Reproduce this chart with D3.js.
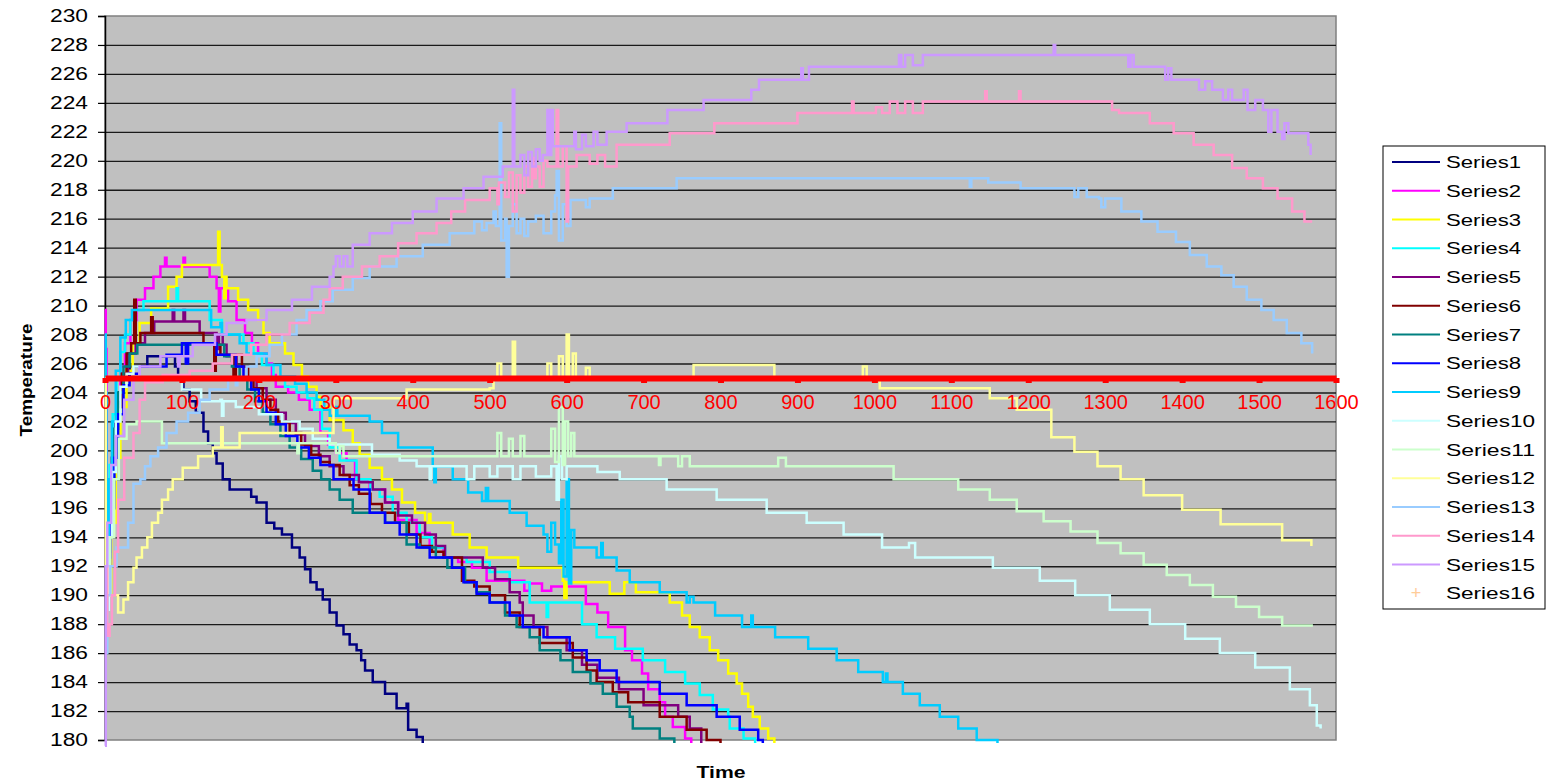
<!DOCTYPE html>
<html>
<head>
<meta charset="utf-8">
<script src="https://cdn.jsdelivr.net/npm/d3@7"></script>
<style>
  body { margin: 0; background: #fff; }
  text { font-family: Arial, "Liberation Sans", sans-serif; }
</style>
</head>
<body>
<div id="chart"></div>
<script>
// readings: [time, temperature]
var s1 = [[1,192.6],[5,196.5],[9,199.5],[13,202],[18,204],[24,205.2],[32,205.8],[55,206.5],[88,206.5],[91,205.8],[95,205],[102,204.2],[110,203.4],[118,202.6],[128,201.3],[134,200.5],[140,199.8],[145,199.1],[153,198],[162,197.3],[190,196.8],[197,196.4],[210,195],[220,194.6],[230,194.2],[243,193.3],[253,192.6],[260,191.8],[267,190.9],[275,190.4],[283,189.7],[292,188.8],[301,187.9],[310,187.3],[318,186.6],[327,186.2],[333,185.5],[338,184.8],[348,184],[364,183.2],[379,182.2],[392,182.5],[394,180.7],[405,180.2],[413,179.8]];
var s2 = [[0,209.7],[1,207],[2,193.5],[6,197],[10,200.5],[15,203.5],[20,205.8],[26,207.4],[33,209],[41,210.4],[52,211.2],[63,212],[72,212.7],[78,213.3],[80,212.7],[100,212.7],[102,213.3],[104,212.7],[123,212.7],[136,212],[145,211.2],[148,209.6],[150,211.2],[160,210.3],[171,209],[182,208.1],[191,207.4],[199,206.7],[210,206],[217,205.2],[222,204.4],[238,204],[252,203.5],[266,202.8],[280,201.2],[290,200.4],[300,199.8],[314,199.3],[325,198],[344,197.3],[364,196.4],[381,195.2],[405,194.3],[422,193.3],[440,192.6],[459,192.3],[477,191.9],[496,191],[545,190.3],[552,190.8],[568,190.3],[580,190.6],[625,189.4],[640,188.8],[654,187.8],[676,186.2],[685,185.5],[698,184.6],[706,183.5],[721,182.6],[728,181.6],[738,180.9],[754,180.1],[762,179.8]];
var s3 = [[3,190],[8,195],[14,199.5],[20,203],[28,205.5],[36,207.4],[45,208.8],[60,209.8],[82,211.3],[93,212],[100,212.8],[145,212.8],[147,215.1],[149,212.8],[152,212],[155,210.5],[157,212],[158,211.2],[173,210.4],[186,209.7],[199,209],[206,208.1],[214,207.4],[234,206.7],[245,205.9],[256,205.1],[264,204.4],[275,203.7],[280,203],[292,202.1],[310,201.4],[322,200.5],[331,199.7],[344,198.8],[360,198],[373,197.3],[386,196.4],[403,195.7],[416,195],[421,195.6],[423,195],[452,194.2],[474,193.3],[496,192.6],[537,191.9],[595,191],[597,189.8],[600,190.9],[656,190.1],[675,190.9],[690,190.2],[734,189.5],[750,188.6],[760,187.8],[773,187.1],[786,186.2],[797,185.5],[810,184.6],[821,183.9],[828,183.2],[836,182.3],[842,181.6],[851,180.8],[862,180.1],[870,179.8]];
var s4 = [[2,195],[6,199],[10,202.5],[15,205],[20,206.8],[26,208],[33,209],[40,209.7],[50,210.3],[92,210.3],[93,211.2],[95,210.3],[134,210.3],[136,209],[152,208],[180,207.4],[193,206.7],[204,205.9],[219,205],[234,204.4],[249,204],[263,203.6],[272,202.8],[282,201.5],[292,200.2],[305,199.3],[327,198],[345,197.3],[357,196.8],[374,195.7],[392,195],[409,194],[425,193.3],[442,192.6],[470,192.3],[500,191.6],[526,190.9],[552,189.5],[572,189.5],[574,188.5],[576,189.5],[620,188],[639,187.1],[663,186.3],[699,185.5],[728,184.7],[754,183.9],[773,183.1],[790,182.1],[810,181.6],[812,180.8],[830,180.1],[845,179.8]];
var s5 = [[3,193],[7,197],[11,200],[16,203],[22,205.3],[30,206.7],[40,207.4],[52,208.1],[64,208.9],[86,208.9],[88,209.7],[90,208.9],[100,208.9],[102,209.7],[104,208.9],[123,208.1],[145,207],[148,208],[153,207.3],[158,206.5],[171,205.8],[185,205],[197,204.3],[210,203.5],[222,202.6],[235,201.9],[248,201.1],[260,200.3],[278,199.6],[292,198.9],[310,198.3],[330,197.8],[348,197.3],[364,196.4],[381,195.5],[399,195],[416,194.2],[430,193.4],[442,192.6],[491,191.9],[507,191.1],[526,190.2],[539,189.5],[543,188.6],[557,187.8],[575,187.1],[600,186.2],[620,185.2],[640,184.3],[668,183.5],[700,182.4],[745,181.6],[760,180.8],[775,179.8]];
var s6 = [[3,192],[7,196.5],[11,200],[16,203],[22,205.3],[28,206.7],[34,207.4],[38,210.4],[40,207.4],[46,208.1],[60,209.2],[62,208.1],[125,208.1],[128,207.3],[142,205.5],[144,207.3],[150,206.6],[167,205.2],[170,206.6],[178,205.8],[186,205],[193,204.3],[205,203.5],[215,202.8],[225,202],[240,201.2],[255,200.4],[268,199.7],[280,199.2],[292,199],[305,198.3],[318,197.6],[330,197],[345,196.3],[360,195.7],[377,195],[395,194.2],[410,193.4],[425,193],[440,192.6],[464,191],[480,190.6],[500,190],[520,188.8],[539,187.8],[565,186.7],[608,185.7],[626,184.8],[639,184],[660,183.3],[680,182.6],[721,181.6],[756,180.7],[782,180],[800,179.8]];
var s7 = [[3,194],[7,198],[12,201.5],[17,204],[24,205.8],[32,206.7],[42,207.3],[150,207.3],[155,206.5],[165,205.8],[175,205],[185,204.2],[195,203.4],[205,202.6],[215,201.8],[228,201],[240,200.2],[255,199.4],[270,198.6],[281,198],[292,197.3],[305,196.6],[322,195.7],[364,195],[392,193.5],[409,193.3],[430,192.6],[445,191.9],[468,190.9],[483,190.2],[500,189.5],[520,188.6],[535,187.8],[552,187.1],[565,186.2],[592,185.5],[608,184.7],[631,183.9],[647,183.2],[665,182.3],[682,181.6],[686,180.8],[721,180.1],[740,179.8]];
var s8 = [[3,192.6],[7,196],[12,199.5],[17,202.5],[24,204.5],[32,205.3],[45,205.8],[80,206.6],[100,207.4],[105,206],[108,207.4],[140,207.4],[145,206.6],[170,205.8],[180,205],[190,204.2],[200,203.4],[210,202.6],[222,201.8],[235,201],[250,200.2],[265,199.5],[280,199],[297,198],[323,197.3],[344,195.7],[364,195],[383,194.2],[405,193.3],[422,192.6],[451,191.9],[466,190.9],[483,190.1],[500,189.5],[526,188.6],[543,187.8],[570,187.1],[604,186.2],[626,185.5],[643,184.8],[665,184],[721,183.2],[756,182.4],[795,181.6],[825,180.7],[849,180],[855,179.8]];
var s9 = [[0,208],[1,204],[2,194],[5,198],[9,202],[14,205.5],[20,207.8],[27,209],[35,209.7],[136,209.7],[138,208.5],[150,208.8],[152,208],[175,207.4],[184,206.7],[210,205.9],[228,205.1],[247,204.6],[262,204],[275,203.5],[285,202.8],[292,202.4],[300,203],[302,202.4],[344,202],[360,201.2],[381,200.2],[426,198.9],[428,197.8],[430,198.9],[452,198],[472,197.1],[490,196.5],[495,197.4],[498,196.5],[526,195.7],[548,194.8],[570,194.2],[575,193],[580,195],[585,193.5],[590,192.2],[593,196.6],[596,191.3],[600,198],[603,190.8],[606,194.5],[610,193.3],[639,192.6],[645,193.6],[647,192.6],[665,191.7],[682,190.9],[721,190.2],[756,189.5],[760,189.9],[765,189.5],[793,188.6],[828,187.8],[840,188.6],[842,187.8],[871,187.1],[914,186.3],[951,185.5],[979,184.7],[1011,184],[1015,184.6],[1017,184],[1037,183.2],[1059,182.4],[1085,181.6],[1109,180.8],[1133,180],[1160,179.8]];
var s10 = [[2,189],[5,194],[9,198.5],[14,202],[20,204.4],[28,205.3],[37,205.8],[45,205],[100,204.2],[125,203.4],[150,203.5],[152,202.4],[154,203.4],[170,203],[200,202.5],[230,202],[253,201.5],[270,200.8],[292,200.4],[347,199.7],[383,199.3],[405,198.9],[422,198],[424,198.9],[470,198],[480,198.9],[500,198.2],[510,198.9],[530,198],[540,198.9],[560,198.2],[580,198.9],[587,196.6],[590,199.6],[594,198],[600,198.9],[640,198.5],[669,198],[730,197.3],[795,196.6],[860,195.7],[912,195],[960,194.2],[1010,193.3],[1045,193.6],[1053,192.6],[1154,191.9],[1215,191],[1261,190],[1306,189],[1358,188],[1404,187],[1449,186],[1495,185],[1540,183.5],[1566,182.4],[1575,181],[1580,180.8]];
var s11 = [[3,190],[7,194],[12,198],[18,200.8],[28,201.8],[41,202],[74,200.5],[249,200.5],[250,199.8],[252,200.5],[300,199.8],[305,200.3],[310,199.6],[510,201.2],[515,199.6],[525,200.8],[530,199.6],[540,201],[545,199.6],[580,201.5],[585,199.2],[590,203],[595,199],[598,202],[602,199.6],[606,201.2],[610,199.6],[720,199],[722,199.6],[745,198.9],[750,199.6],[760,198.9],[875,199.5],[885,198.9],[1025,198],[1109,197.3],[1150,196.6],[1185,195.8],[1220,195.1],[1255,194.4],[1290,193.6],[1320,192.9],[1350,192.1],[1380,191.4],[1410,190.7],[1440,189.9],[1470,189.2],[1500,188.5],[1530,187.9],[1570,187.9]];
var s12 = [[0,205],[1,192],[3,190],[17,188.8],[24,189.7],[30,190.9],[37,191.9],[41,192.6],[48,193.3],[55,194],[61,195],[69,195.7],[74,196.6],[82,197.3],[88,198],[101,198.8],[121,199.6],[140,200.2],[151,201.6],[153,200.2],[175,201.2],[297,203.6],[392,204.2],[500,204.3],[505,205],[510,206],[515,205],[530,207.5],[533,205],[575,206],[580,205],[590,206.5],[595,205],[600,208],[603,205],[608,206.7],[612,205],[625,205.7],[630,205],[765,205.9],[870,205],[985,205.8],[990,205],[1007,204.3],[1150,203.6],[1185,202.8],[1230,200.9],[1260,199.9],[1290,198.9],[1320,198],[1350,196.9],[1400,195.9],[1450,194.9],[1530,193.8],[1568,193.4]];
var s13 = [[1,186],[3,190],[7,192],[15,193.3],[30,195],[37,197.7],[46,198],[52,198.9],[59,199.6],[69,200.2],[80,201.2],[93,202],[108,202.6],[123,203.5],[136,204.2],[160,205],[170,204.5],[172,205],[184,205.8],[197,206.5],[214,207.3],[230,208],[249,209],[262,209.7],[280,210.3],[296,211.1],[322,211.9],[344,212.7],[379,213.4],[413,214.2],[448,215],[480,215.8],[490,215.2],[496,215.7],[505,216.5],[508,215.5],[513,222.6],[515,214.5],[520,216],[522,212],[525,215.5],[530,217],[535,215],[540,216],[545,214.8],[550,215.8],[560,216.2],[570,215],[580,216.5],[585,217.6],[587,219.3],[590,214.5],[595,217],[600,215.5],[605,217.3],[625,216.8],[630,217.4],[660,218.1],[743,218.8],[1122,218.8],[1124,218.2],[1126,218.8],[1148,218.5],[1190,218.1],[1260,217.5],[1265,218.1],[1276,217.5],[1292,217.4],[1295,216.8],[1300,217.4],[1321,216.5],[1347,215.8],[1368,215.1],[1392,214.4],[1410,213.5],[1432,212.7],[1451,212.1],[1467,211.3],[1484,210.4],[1503,209.7],[1519,209],[1536,208.1],[1555,207.4],[1569,206.7]];
var s14 = [[0,192],[3,187.2],[6,188],[9,190],[13,193],[17,196.6],[25,199.5],[37,201.2],[45,203.5],[52,204.7],[75,205.2],[110,205.5],[140,206],[165,206.6],[190,207.3],[210,208],[240,208.8],[266,209.5],[284,210.4],[292,211.2],[309,212],[334,212.7],[357,213.4],[381,214.3],[405,215],[431,215.7],[450,216.5],[468,217.3],[500,218.1],[510,217],[512,218.5],[520,217.5],[525,219.2],[530,216.5],[535,219],[540,217.8],[545,219.6],[550,218.2],[555,220.2],[557,218.8],[560,219.6],[565,218.2],[570,220],[575,219.6],[587,223.5],[589,219.6],[595,221],[600,215.8],[602,219.6],[613,220.4],[630,219.8],[640,220.4],[650,219.6],[665,221.1],[734,221.9],[792,222.6],[900,223.3],[971,224.1],[973,223.3],[1002,223.7],[1010,223.3],[1020,224.1],[1030,223.3],[1040,224.1],[1050,223.3],[1063,224.1],[1144,224.8],[1146,224.1],[1188,224.8],[1190,224.1],[1309,223.5],[1318,223.3],[1358,222.6],[1389,221.9],[1415,221.1],[1441,220.4],[1465,219.5],[1484,218.8],[1505,218.1],[1524,217.4],[1543,216.5],[1559,215.8],[1569,215.8]];
var s15 = [[0,179.6],[1,192],[3,195],[8,199],[14,201],[25,203.5],[37,205],[45,205.8],[72,206.5],[95,205.8],[97,206.5],[114,207.3],[143,208],[158,208.8],[184,209],[210,209.7],[243,210.4],[269,211.3],[292,212],[297,212.7],[300,213.4],[305,212.7],[310,213.4],[315,212.7],[322,214.2],[344,215],[373,215.7],[400,216.5],[431,217.4],[466,218.1],[492,218.9],[517,219.6],[530,224.9],[532,219.6],[540,220.4],[545,219],[550,220.6],[555,219.6],[560,220.8],[565,220],[569,220.4],[575,223.5],[577,220.4],[580,223.5],[582,221],[610,222],[612,220.8],[620,221.8],[625,221],[635,222],[640,221.1],[652,222],[678,222.6],[731,223.5],[778,224.2],[840,224.9],[850,225.6],[905,226.4],[907,225.6],[915,226.5],[1032,227.3],[1035,226.5],[1040,227.3],[1050,226.6],[1063,227.3],[1233,228],[1235,227.3],[1330,226.5],[1333,227.3],[1337,226.5],[1378,225.6],[1382,226.4],[1386,225.6],[1422,224.9],[1430,225.5],[1439,224.9],[1453,224.2],[1460,224.9],[1465,224.2],[1480,224.9],[1485,223.5],[1495,224.2],[1505,223.5],[1512,222],[1516,223.5],[1524,222],[1530,221.5],[1533,222.6],[1538,221.9],[1564,221.1],[1567,220.4]];
var s16 = [];

var seriesNames = ["Series1","Series2","Series3","Series4","Series5","Series6","Series7","Series8",
                   "Series9","Series10","Series11","Series12","Series13","Series14","Series15","Series16"];
var seriesColors = ["#000080","#FF00FF","#FFFF00","#00FFFF","#800080","#800000","#008080","#0000FF",
                    "#00CCFF","#CCFFFF","#CCFFCC","#FFFF99","#99CCFF","#FF99CC","#CC99FF","#FFCC99"];
var seriesData = [s1,s2,s3,s4,s5,s6,s7,s8,s9,s10,s11,s12,s13,s14,s15,s16];

var yTicks = d3.range(180, 231, 2);
var xTicks = d3.range(0, 1601, 100);
var xAxisCross = 205;

var w = 1548, h = 783,
    plot = {left: 105, right: 1336, top: 16, bottom: 740};

var svg = d3.select("#chart").append("svg")
    .attr("width", w)
    .attr("height", h)
    .style("background-color", "white");

var x = d3.scaleLinear().domain([0, 1600]).range([plot.left, plot.right]),
    y = d3.scaleLinear().domain([180, 230]).range([plot.bottom, plot.top]);

// plot area
svg.append("rect")
    .attr("x", plot.left).attr("y", plot.top)
    .attr("width", plot.right - plot.left).attr("height", plot.bottom - plot.top)
    .attr("fill", "#C0C0C0")
    .attr("stroke", "#808080").attr("stroke-width", 1.5);

// gridlines
svg.append("g")
    .attr("transform", "translate(" + plot.left + ",0)")
    .call(d3.axisLeft(y).tickValues(yTicks).tickSize(-(plot.right - plot.left)).tickFormat(""))
    .call(function(g) {
        g.select(".domain").remove();
        g.selectAll(".tick line").attr("stroke", "#1a1a1a").attr("stroke-width", 1.3);
        g.selectAll(".tick").filter(function(d) { return d == 230 || d == 180; }).remove();
    });

// y axis
var yAxis = svg.append("g")
    .attr("transform", "translate(" + plot.left + ",0)")
    .call(d3.axisLeft(y).tickValues(yTicks).tickSize(7).tickPadding(10));
yAxis.select(".domain").attr("stroke", "#000").attr("stroke-width", 1.5);
yAxis.selectAll(".tick line").attr("stroke", "#000").attr("stroke-width", 1.2);
yAxis.selectAll(".tick text")
    .attr("fill", "#000")
    .style("font-size", "17.5px")
    .attr("textLength", 38)
    .attr("lengthAdjust", "spacingAndGlyphs");

// series
var line = d3.line()
    .x(function(d) { return x(d[0]); })
    .y(function(d) { return y(d[1]); })
    .curve(d3.curveStepAfter);

svg.append("g").selectAll("path")
    .data(seriesData.slice(0, 15))
    .enter()
    .append("path")
    .attr("d", function(d) { return line(d); })
    .attr("fill", "none")
    .attr("stroke", function(d, i) { return seriesColors[i]; })
    .attr("stroke-width", 2.5)
    .attr("stroke-linejoin", "miter");

// red x axis crossing at 205
var xAxis = svg.append("g")
    .attr("transform", "translate(0," + y(xAxisCross) + ")")
    .call(d3.axisBottom(x).tickValues(xTicks).tickFormat(d3.format("d"))
        .tickSize(5).tickPadding(12).tickSizeOuter(0));
xAxis.select(".domain").attr("stroke", "#FF0000").attr("stroke-width", 6);
xAxis.selectAll(".tick line").attr("stroke", "#FF0000").attr("stroke-width", 6);
xAxis.selectAll(".tick text")
    .attr("fill", "#FF0000")
    .style("font-size", "20px");

// axis titles
svg.append("text")
    .attr("transform", "translate(32," + ((plot.top + plot.bottom) / 2 + 2) + ") rotate(-90)")
    .attr("text-anchor", "middle")
    .style("font-size", "17px")
    .style("font-weight", "bold")
    .attr("textLength", 113)
    .attr("lengthAdjust", "spacingAndGlyphs")
    .text("Temperature");

svg.append("text")
    .attr("x", 721)
    .attr("y", 778)
    .attr("text-anchor", "middle")
    .style("font-size", "17px")
    .style("font-weight", "bold")
    .attr("textLength", 49)
    .attr("lengthAdjust", "spacingAndGlyphs")
    .text("Time");

// legend
var legend = svg.append("g").attr("transform", "translate(1383,146)");
legend.append("rect")
    .attr("width", 162).attr("height", 463)
    .attr("fill", "white").attr("stroke", "#000").attr("stroke-width", 1);

var rowH = 28.75;
var items = legend.selectAll(".item")
    .data(seriesNames)
    .enter().append("g")
    .attr("class", "item")
    .attr("transform", function(d, i) { return "translate(0," + (16 + i * rowH) + ")"; });

items.filter(function(d, i) { return i < 15; })
    .append("line")
    .attr("x1", 9).attr("x2", 57)
    .attr("stroke", function(d, i) { return seriesColors[i]; })
    .attr("stroke-width", 2.2);

items.filter(function(d, i) { return i == 15; })
    .append("text")
    .attr("x", 33).attr("y", 6)
    .attr("text-anchor", "middle")
    .attr("fill", seriesColors[15])
    .style("font-size", "18px")
    .text("+");

items.append("text")
    .attr("x", 63)
    .attr("y", 6)
    .style("font-size", "17px")
    .attr("textLength", function(d) { return d.length > 7 ? 89 : 75; })
    .attr("lengthAdjust", "spacingAndGlyphs")
    .text(function(d) { return d; });
</script>
</body>
</html>
